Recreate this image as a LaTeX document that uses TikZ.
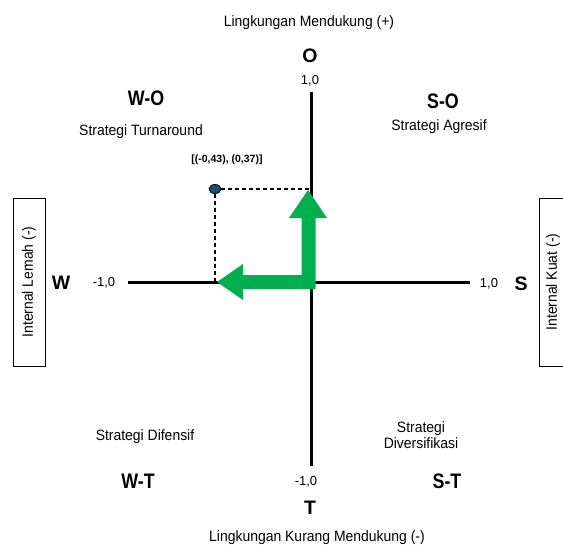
\documentclass[tikz,border=0pt]{standalone}
\usepackage{fontspec}
\setmainfont{Liberation Sans}
\newfontfamily\lblfont[FakeStretch=0.93]{Liberation Sans}
\newfontfamily\bfnarrow[FakeStretch=0.85]{Liberation Sans}
\usetikzlibrary{shapes.geometric}
\definecolor{arrgreen}{RGB}{0,176,80}
\definecolor{dotblue}{RGB}{31,78,110}
\begin{document}
\begin{tikzpicture}[x=1pt,y=-1pt,
  txt/.style={inner sep=0pt, text height=10.7pt, text depth=0pt, align=center, font=\lblfont\fontsize{15}{16}\selectfont},
  num/.style={inner sep=0pt, text height=9.5pt, text depth=0pt, font=\fontsize{13}{14}\selectfont},
  big/.style={inner sep=0pt, text height=15pt, text depth=0pt, font=\bfnarrow\bfseries\fontsize{21}{22}\selectfont},
  axlbl/.style={inner sep=0pt, text height=14pt, text depth=0pt, font=\bfseries\fontsize{19.5}{21}\selectfont},
  sidebox/.style={draw, line width=0.8pt, rotate=90, inner sep=0pt, minimum width=168pt, font=\lblfont\fontsize{15}{16}\selectfont},
  axis/.style={line width=3pt},
  guide/.style={line width=1.7pt, dash pattern=on 4pt off 3pt}]
\useasboundingbox (0,0) rectangle (563,547);
% axes
\coordinate (xl) at (128,282);
\coordinate (xr) at (470,282);
\coordinate (yt) at (311,92);
\coordinate (yb) at (311,466);
\draw[axis] (xl) -- (xr);
\draw[axis] (yt) -- (yb);
% point and guides
\node[ellipse, draw, line width=0.8pt, fill=dotblue, minimum width=12pt, minimum height=9pt, inner sep=0pt] (pt) at (215,189) {};
\coordinate (py) at (311,189);
\coordinate (px) at (215,282);
\draw[guide] (pt.east) -- (py);
\draw[guide] (pt.south) -- (px);
\node[inner sep=0pt, font=\bfseries\fontsize{10.5}{12}\selectfont] (coord) at (227,160) {[(-0,43), (0,37)]};
% green arrow
\fill[arrgreen] (308,190) -- (327,218) -- (315.5,218) -- (315.5,289) -- (243,289) -- (243,300)
  -- (217,282) -- (243,264) -- (243,275) -- (301.5,275) -- (301.5,218) -- (289,218) -- cycle;
% axis labels
\node[txt] (top) at (309,21) {Lingkungan Mendukung (+)};
\node[axlbl] (O) at (310,55) {O};
\node[num] (onep) at (310,80) {1,0};
\node[num] (onem) at (306,481) {-1,0};
\node[axlbl] (T) at (310,507) {T};
\node[txt] (bot) at (317,536) {Lingkungan Kurang Mendukung (-)};
\node[axlbl] (W) at (61,282) {W};
\node[num] (lm) at (104,282) {-1,0};
\node[num] (rp) at (489,283) {1,0};
\node[axlbl] (S) at (521,283) {S};
% side boxes
\node[sidebox, minimum height=32pt] (lbox) at (29,282) {Internal Lemah (-)};
\node[sidebox, minimum height=28pt] (rbox) at (553,282) {Internal Kuat (-)};
% quadrants
\node[big] (wo) at (146,98) {W-O};
\node[txt] (wos) at (141,130) {Strategi Turnaround};
\node[big] (so) at (443,101) {S-O};
\node[txt] (sos) at (439,125) {Strategi Agresif};
\node[txt] (wts) at (145,435) {Strategi Difensif};
\node[big] (wt) at (138,481) {W-T};
\node[txt] (sts1) at (421,427) {Strategi};
\node[txt] (sts2) at (421,443) {Diversifikasi};
\node[big] (st) at (447,481) {S-T};
\end{tikzpicture}
\end{document}
